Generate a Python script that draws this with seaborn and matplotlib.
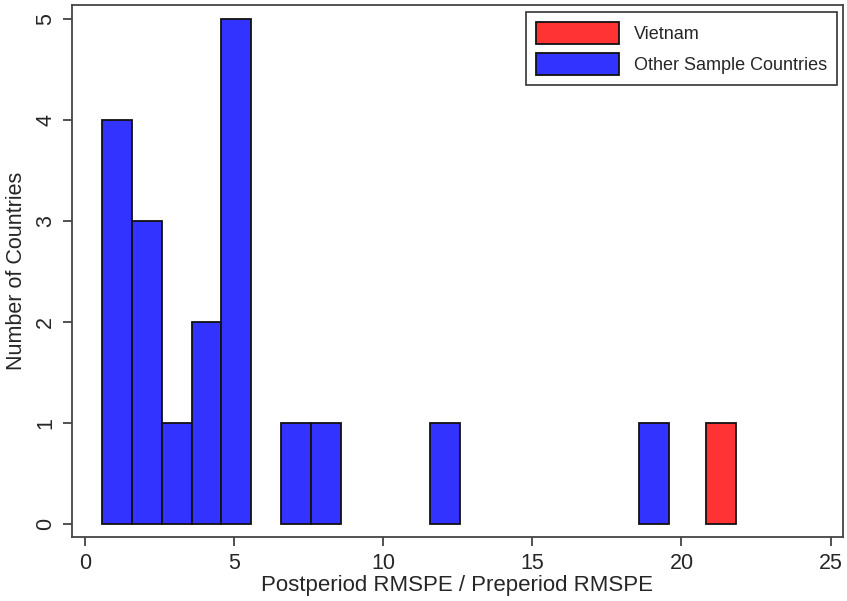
import numpy as np
import matplotlib
matplotlib.use("Agg")
import matplotlib.pyplot as plt
import seaborn as sns

# bin left edges and counts (bin width 1)
other_left = [0.57, 1.57, 2.57, 3.57, 4.57, 6.57, 7.57, 11.57, 18.57]
other_count = [4, 3, 1, 2, 5, 1, 1, 1, 1]
vietnam_left = [20.82]
vietnam_count = [1]
binw = 1.0

sns.set_style("white")
plt.rcParams['font.family'] = ['Liberation Sans', 'DejaVu Sans']

fig = plt.figure(figsize=(8.47, 6.01), dpi=100)
ax = fig.add_axes([0.085, 0.1065, 0.91, 0.8852])

blue = "#3333ff"
red = "#ff3333"

sns.histplot(x=np.array(other_left) + binw / 2, weights=other_count,
             binwidth=binw, binrange=(other_left[0], other_left[-1] + binw),
             color=blue, alpha=1, edgecolor="#111111", linewidth=1.3, ax=ax,
             label="Other Sample Countries")
sns.histplot(x=np.array(vietnam_left) + binw / 2, weights=vietnam_count,
             binwidth=binw, binrange=(vietnam_left[0], vietnam_left[0] + binw),
             color=red, alpha=1, edgecolor="#111111", linewidth=1.3, ax=ax,
             label="Vietnam")

# hide empty bins
for p in ax.patches:
    if p.get_height() == 0:
        p.set_visible(False)

ax.set_xlim(-0.44, 25.41)
ax.set_ylim(-0.133, 5.139)
ax.set_xticks([0, 5, 10, 15, 20, 25])
ax.set_yticks([0, 1, 2, 3, 4, 5])
ax.tick_params(axis="both", direction="out", length=6.5, width=1.2, color="#333333",
               labelsize=15.5, bottom=True, left=True, pad=5)
for lab in ax.get_yticklabels():
    lab.set_rotation(90)
    lab.set_va("center")
for s in ax.spines.values():
    s.set_color("#444444")
    s.set_linewidth(1.3)

ax.set_xlabel("Postperiod RMSPE / Preperiod RMSPE", fontsize=16, labelpad=1)
ax.set_ylabel("Number of Countries", fontsize=15.5, labelpad=6)

h, l = ax.get_legend_handles_labels()
order = [l.index("Vietnam"), l.index("Other Sample Countries")]
leg = ax.legend([h[i] for i in order], [l[i] for i in order], loc="upper right",
                fontsize=13, frameon=True, fancybox=False, edgecolor="black",
                handlelength=4.6, handleheight=1.5, labelspacing=0.5,
                borderpad=0.55, borderaxespad=0,
                bbox_to_anchor=(0.992, 0.987))
leg.get_frame().set_linewidth(1.2)

fig.savefig("out.png", dpi=100)
